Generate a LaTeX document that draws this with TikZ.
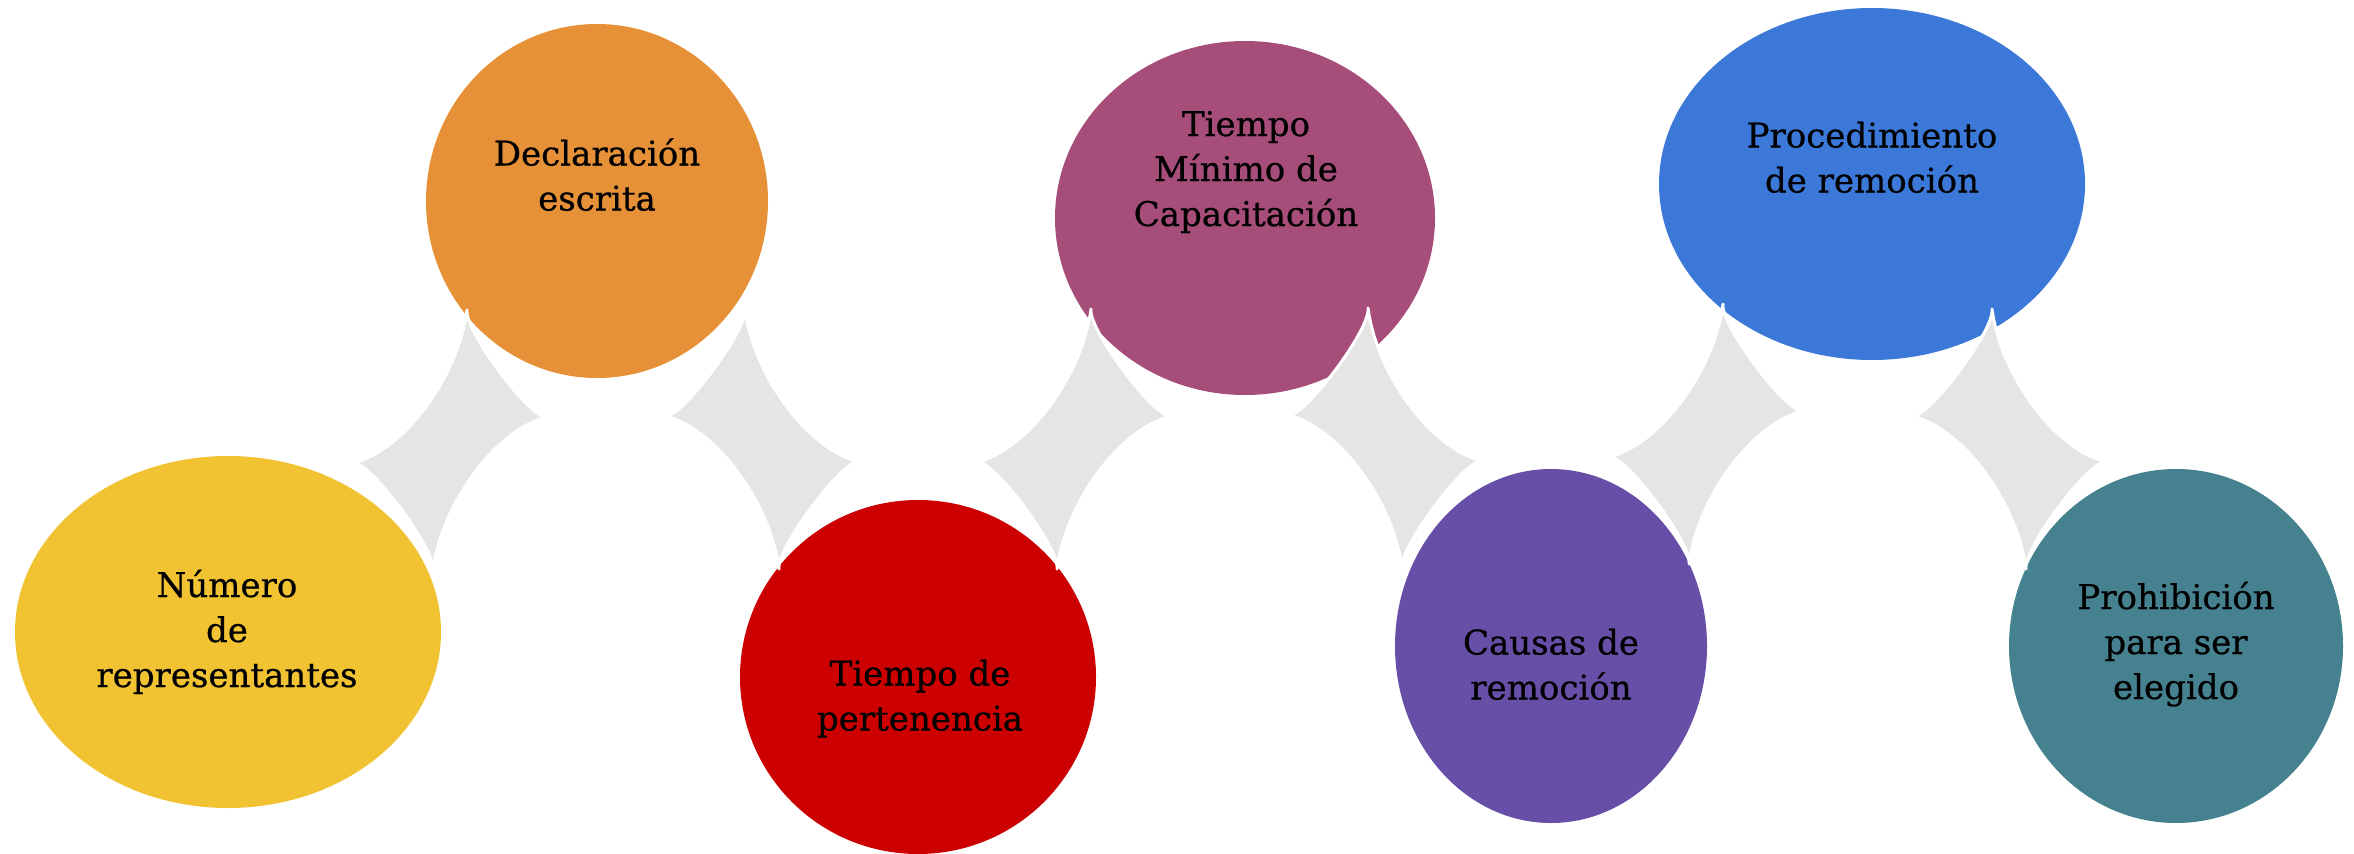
\documentclass[tikz,border=0pt]{standalone}
\usepackage{fontspec}
\setmainfont{DejaVu Serif}
\newfontfamily\bubbleface{DejaVu Serif}[FakeBold=0.6]
\usetikzlibrary{shapes.geometric}

\definecolor{cyellow}{RGB}{241,194,50}
\definecolor{corange}{RGB}{230,145,56}
\definecolor{cred}{RGB}{204,0,0}
\definecolor{cmauve}{RGB}{166,77,121}
\definecolor{cpurple}{RGB}{103,78,167}
\definecolor{cblue}{RGB}{60,120,216}
\definecolor{cteal}{RGB}{69,129,142}
\definecolor{sparklegrey}{RGB}{229,229,229}

\newcommand{\bubblefont}{\bubbleface\fontsize{25.5}{33.75}\selectfont}

\tikzset{every picture/.style={line width=0.75pt}}
\tikzset{
  bubble/.style={ellipse, draw=none, inner sep=0pt, outer sep=0pt},
  bubbletext/.style={inner sep=0.75pt, align=center, font=\bubblefont, text=black},
  sparkle/.style={fill=sparklegrey, draw=white, line width=2.25pt, line join=round}
}

\begin{document}
\begin{tikzpicture}[x=0.75pt,y=0.75pt,yscale=-1,xscale=1]
\useasboundingbox (0,0) rectangle (2354,853);

%Shape: Ellipse [numero]
\node (numero) [bubble, fill=cyellow, minimum width=319.5pt, minimum height=264pt] at (228,632) {};
%Shape: Ellipse [declaracion]
\node (declaracion) [bubble, fill=corange, minimum width=256.5pt, minimum height=265.5pt] at (597,201) {};
%Shape: Ellipse [pertenencia]
\node (pertenencia) [bubble, fill=cred, minimum width=267pt, minimum height=265.5pt] at (918,677) {};
%Shape: Ellipse [capacitacion]
\node (capacitacion) [bubble, fill=cmauve, minimum width=285pt, minimum height=265.5pt] at (1245,218) {};
%Shape: Ellipse [causas]
\node (causas) [bubble, fill=cpurple, minimum width=234pt, minimum height=265.5pt] at (1551,646) {};
%Shape: Ellipse [procedimiento]
\node (procedimiento) [bubble, fill=cblue, minimum width=319.5pt, minimum height=264pt] at (1872,184) {};
%Shape: Ellipse [prohibicion]
\node (prohibicion) [bubble, fill=cteal, minimum width=250.5pt, minimum height=265.5pt] at (2176,646) {};

%Shape: Sparkle [numero - declaracion]
\draw [sparkle] (467,310) .. controls (464,331) and (532,421) .. (547,417) .. controls (497,429) and (442,502) .. (433,570) .. controls (436,549) and (368,459) .. (353,463) .. controls (403,451) and (458,378) .. (467,310) -- cycle ;
%Shape: Sparkle [declaracion - pertenencia]
\draw [sparkle] (745,309) .. controls (748,330) and (680,420) .. (665,416) .. controls (715,428) and (770,501) .. (779,569) .. controls (776,548) and (844,458) .. (859,462) .. controls (809,450) and (754,377) .. (745,309) -- cycle ;
%Shape: Sparkle [pertenencia - capacitacion]
\draw [sparkle] (1091,309) .. controls (1088,330) and (1156,420) .. (1171,416) .. controls (1121,428) and (1066,501) .. (1057,569) .. controls (1060,548) and (992,458) .. (977,462) .. controls (1027,450) and (1082,377) .. (1091,309) -- cycle ;
%Shape: Sparkle [capacitacion - causas]
\draw [sparkle] (1368,308) .. controls (1371,329) and (1303,419) .. (1288,415) .. controls (1338,427) and (1393,500) .. (1402,568) .. controls (1399,547) and (1467,457) .. (1482,461) .. controls (1432,449) and (1377,376) .. (1368,308) -- cycle ;
%Shape: Sparkle [causas - procedimiento]
\draw [sparkle] (1723,304) .. controls (1720,325) and (1788,415) .. (1803,411) .. controls (1753,423) and (1698,496) .. (1689,564) .. controls (1692,543) and (1624,453) .. (1609,457) .. controls (1659,445) and (1714,372) .. (1723,304) -- cycle ;
%Shape: Sparkle [procedimiento - prohibicion]
\draw [sparkle] (1992,309) .. controls (1995,330) and (1927,420) .. (1912,416) .. controls (1962,428) and (2017,501) .. (2026,569) .. controls (2023,548) and (2091,458) .. (2106,462) .. controls (2056,450) and (2001,377) .. (1992,309) -- cycle ;

% Text Node
\draw (227,633) node (numero-txt) [bubbletext] {\strut Número\\de\\representantes\strut};
% Text Node
\draw (597,179) node (declaracion-txt) [bubbletext] {\strut Declaración\\escrita\strut};
% Text Node
\draw (920,699) node (pertenencia-txt) [bubbletext] {\strut Tiempo de\\pertenencia\strut};
% Text Node
\draw (1246,172) node (capacitacion-txt) [bubbletext] {\strut Tiempo\\Mínimo de\\Capacitación\strut};
% Text Node
\draw (1551,668) node (causas-txt) [bubbletext] {\strut Causas de\\remoción\strut};
% Text Node
\draw (1872,161) node (procedimiento-txt) [bubbletext] {\strut Procedimiento\\de remoción\strut};
% Text Node
\draw (2176,645) node (prohibicion-txt) [bubbletext] {\strut Prohibición\\para ser\\elegido\strut};

\end{tikzpicture}
\end{document}
